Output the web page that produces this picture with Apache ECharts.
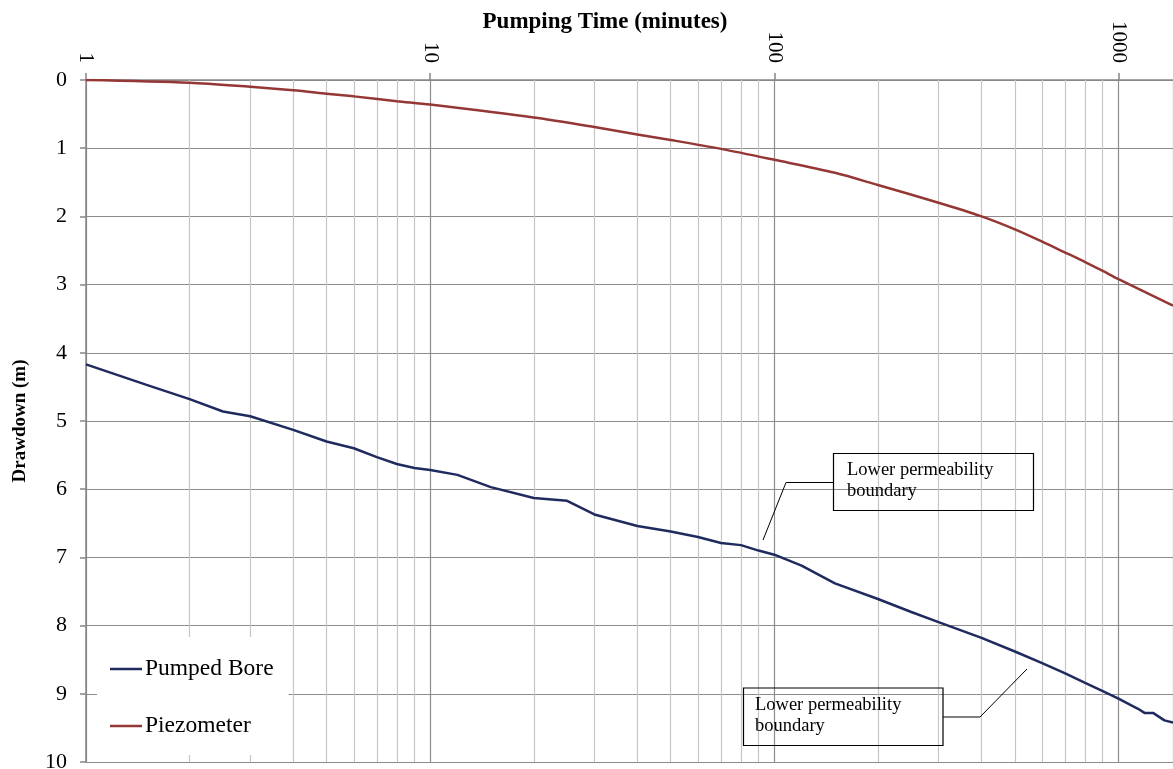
<!DOCTYPE html>
<html>
<head>
<meta charset="utf-8">
<script src="https://cdn.jsdelivr.net/npm/echarts@6/dist/echarts.min.js"></script>
<style>
html,body{margin:0;padding:0;background:#fff;}
#chart{width:1173px;height:769px;}
</style>
</head>
<body>
<div id="chart"></div>
<script>
// ---- Data ----
const boreTimes = [1, 1.5, 2, 2.5, 3, 4, 5, 6, 7, 8, 9, 10, 12, 15, 20, 25, 30, 40, 50, 60, 70, 80, 90, 100, 120, 150, 200, 250, 300, 400, 500, 600, 700, 800, 900, 1000, 1100, 1140, 1190, 1260, 1360, 1440];
const boreDrawdown = [4.17, 4.47, 4.68, 4.86, 4.93, 5.13, 5.30, 5.40, 5.53, 5.63, 5.69, 5.72, 5.79, 5.97, 6.13, 6.17, 6.37, 6.54, 6.62, 6.70, 6.79, 6.82, 6.90, 6.96, 7.12, 7.38, 7.61, 7.80, 7.95, 8.18, 8.38, 8.55, 8.70, 8.84, 8.96, 9.07, 9.18, 9.22, 9.28, 9.28, 9.39, 9.42];

const piezoTimes = [1, 2, 3, 4, 5, 6, 8, 10, 20, 30, 40, 50, 70, 100, 150, 200, 300, 400, 500, 600, 700, 800, 900, 1000, 1440];
const piezoDrawdown = [0.00, 0.04, 0.10, 0.15, 0.20, 0.24, 0.31, 0.36, 0.55, 0.69, 0.80, 0.88, 1.01, 1.17, 1.36, 1.54, 1.80, 2.00, 2.19, 2.37, 2.53, 2.67, 2.80, 2.92, 3.31];

const seriesNames = ['Pumped Bore', 'Piezometer'];
const minorGridTimes = [2,3,4,5,6,7,8,9,20,30,40,50,60,70,80,90,200,300,400,500,600,700,800,900];
const xTitle = 'Pumping Time (minutes)';
const yTitle = 'Drawdown (m)';
const annotationText = 'Lower permeability\nboundary';

// ---- Chart ----
const chart = echarts.init(document.getElementById('chart'), null, {renderer: 'canvas'});
const serif = '"Liberation Serif", "Times New Roman", serif';
const zip = (a, b) => a.map((t, i) => [t, b[i]]);

const option = {
  animation: false,
  backgroundColor: '#ffffff',
  grid: {left: 86, top: 80, right: 0, bottom: 7, containLabel: false, outerBoundsMode: 'none'},
  xAxis: {
    type: 'log', logBase: 10, min: 1, max: 1440, interval: 1,
    position: 'top',
    axisLine: {show: true, onZero: false, lineStyle: {color: '#868686', width: 1.5}},
    axisTick: {show: true, inside: false, length: 7, lineStyle: {color: '#868686', width: 1.5}},
    axisLabel: {
      show: true, rotate: 90, margin: 17, showMaxLabel: false,
      color: '#000', fontFamily: serif, fontSize: 21,
      formatter: v => String(Math.round(v))
    },
    splitLine: {show: true, lineStyle: {color: '#8c8c8c', width: 1.2}},
    minorTick: {show: false}, minorSplitLine: {show: false}
  },
  yAxis: {
    type: 'value', inverse: true, min: 0, max: 10, interval: 1,
    name: yTitle, nameLocation: 'middle', nameGap: 56,
    nameTextStyle: {fontFamily: serif, fontSize: 19, fontWeight: 'bold', color: '#000'},
    axisLine: {show: true, onZero: false, lineStyle: {color: '#868686', width: 1.5}},
    axisTick: {show: true, inside: false, length: 6, lineStyle: {color: '#868686', width: 1.5}},
    axisLabel: {show: true, margin: 19, color: '#000', fontFamily: serif, fontSize: 22},
    splitLine: {show: true, lineStyle: {color: '#8c8c8c', width: 1.2}}
  },
  legend: {
    show: true, orient: 'vertical', left: 97, top: 637,
    data: seriesNames,
    backgroundColor: '#ffffff',
    padding: [19, 15, 16, 13],
    itemGap: 31, itemWidth: 32, itemHeight: 2.5, icon: 'rect',
    textStyle: {fontFamily: serif, fontSize: 23.5, color: '#000', lineHeight: 26, padding: [0,0,0,-2]},
    selectedMode: false
  },
  series: [
    {
      name: '_minorgrid', type: 'line', data: [], z: 1, silent: true,
      markLine: {
        silent: true, symbol: ['none', 'none'], animation: false, z: 1,
        label: {show: false},
        lineStyle: {color: '#c6c6c6', width: 1.2, type: 'solid'},
        emphasis: {disabled: true},
        data: minorGridTimes.map(t => ({xAxis: t}))
      }
    },
    {
      name: seriesNames[0], type: 'line', z: 3,
      data: zip(boreTimes, boreDrawdown),
      showSymbol: false, symbol: 'none',
      lineStyle: {color: '#1F2B5E', width: 2.5},
      itemStyle: {color: '#1F2B5E'}
    },
    {
      name: seriesNames[1], type: 'line', z: 3,
      data: zip(piezoTimes, piezoDrawdown),
      showSymbol: false, symbol: 'none', smooth: 0.3,
      lineStyle: {color: '#953735', width: 2.5},
      itemStyle: {color: '#953735'}
    }
  ],
  graphic: [
    {
      type: 'text', x: 605, y: 11, z: 10,
      style: {text: xTitle, fontFamily: serif, fontSize: 23, fontWeight: 'bold', fill: '#000', align: 'center', textAlign: 'center'}
    },
    // annotation 1
    {type: 'polyline', z: 10, shape: {points: [[833, 482.5], [786, 482.5], [763, 540]]}, style: {stroke: '#000', lineWidth: 1, fill: null}},
    {type: 'rect', z: 10, shape: {x: 833.5, y: 453.5, width: 200, height: 57}, style: {stroke: '#000', lineWidth: 1.2, fill: 'rgba(0,0,0,0)'}},
    {type: 'text', z: 11, x: 847, y: 460, style: {text: annotationText, fontFamily: serif, fontSize: 18.5, lineHeight: 21, fill: '#000'}},
    // annotation 2
    {type: 'polyline', z: 10, shape: {points: [[943, 717], [980, 717], [1027, 669]]}, style: {stroke: '#000', lineWidth: 1, fill: null}},
    {type: 'rect', z: 10, shape: {x: 743.5, y: 688, width: 199.5, height: 57.5}, style: {stroke: '#000', lineWidth: 1.2, fill: 'rgba(0,0,0,0)'}},
    {type: 'text', z: 11, x: 755, y: 695, style: {text: annotationText, fontFamily: serif, fontSize: 18.5, lineHeight: 21, fill: '#000'}}
  ]
};
chart.setOption(option);
</script>
</body>
</html>
